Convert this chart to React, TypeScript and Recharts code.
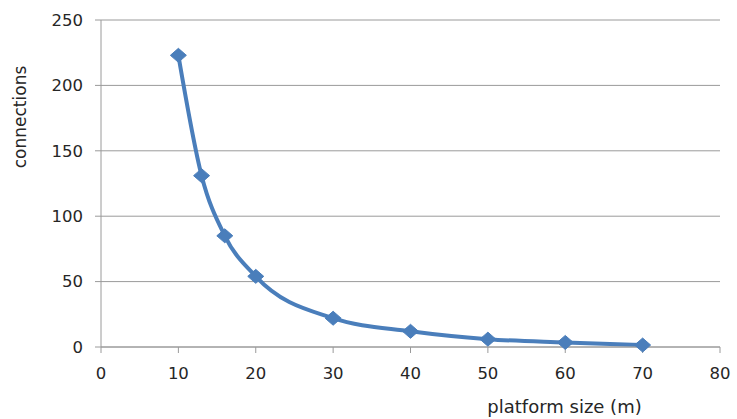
import { CartesianGrid, Line, LineChart, XAxis, YAxis } from "recharts";

// platform size (m) vs number of connections
const sizes = [10, 13, 16, 20, 30, 40, 50, 60, 70];
const connections = [223, 131, 85, 54, 22, 12, 6, 3.5, 1.5];
const xTicks = [0, 10, 20, 30, 40, 50, 60, 70, 80];
const yTicks = [0, 50, 100, 150, 200, 250];

const data = sizes.map((s, i) => ({ size: s, connections: connections[i] }));

const BLUE = "#4a7ebb";
const GRID = "#9a9a9a";
const TEXT = "#262626";
const FONT = "'DejaVu Sans', sans-serif";

function Diamond(props: { cx?: number; cy?: number; index?: number }) {
  const { cx, cy, index } = props;
  if (cx == null || cy == null) return null;
  const w = 8;
  const h = 7;
  return (
    <polygon
      key={index}
      points={`${cx - w},${cy} ${cx},${cy - h} ${cx + w},${cy} ${cx},${cy + h}`}
      fill={BLUE}
      stroke={BLUE}
      strokeWidth={1}
    />
  );
}

function YLabel(props: { viewBox?: { x: number; y: number } }) {
  const vb = props.viewBox ?? { x: 0, y: 0 };
  const x = vb.x + 20;
  const y = vb.y + 97;
  return (
    <text
      x={x}
      y={y}
      transform={`rotate(-90, ${x}, ${y})`}
      textAnchor="middle"
      dominantBaseline="central"
      fontFamily={FONT}
      fontSize={17}
      fill={TEXT}
    >
      connections
    </text>
  );
}

export default function App() {
  return (
    <div style={{ position: "absolute", left: 0, top: 0, background: "#fff" }}>
      <LineChart
        width={737}
        height={419}
        data={data}
        margin={{ top: 20, right: 17, bottom: 0, left: 0 }}
      >
        <CartesianGrid stroke={GRID} vertical={false} />
        <XAxis
          dataKey="size"
          type="number"
          domain={[0, 80]}
          ticks={xTicks}
          interval={0}
          height={72}
          stroke={GRID}
          tickSize={6}
          tickMargin={14}
          tick={{ fill: TEXT, fontFamily: FONT, fontSize: 16.5 }}
          label={{
            value: "platform size (m)",
            position: "insideBottom",
            offset: 6,
            dx: 154,
            fill: TEXT,
            fontFamily: FONT,
            fontSize: 18,
          }}
        />
        <YAxis
          type="number"
          domain={[0, 250]}
          ticks={yTicks}
          interval={0}
          width={101}
          stroke={GRID}
          tickSize={6}
          tickMargin={12}
          tick={{ fill: TEXT, fontFamily: FONT, fontSize: 16.5 }}
          label={<YLabel />}
        />
        <Line
          type="monotone"
          dataKey="connections"
          stroke={BLUE}
          strokeWidth={4}
          dot={<Diamond />}
          activeDot={false}
          isAnimationActive={false}
        />
      </LineChart>
    </div>
  );
}
